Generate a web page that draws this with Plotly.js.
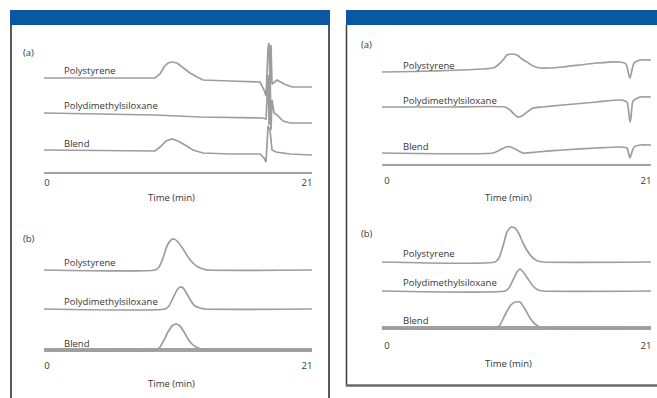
<!DOCTYPE html>
<html>
<head>
<meta charset="utf-8">
<script src="https://cdn.plot.ly/plotly-3.0.1.min.js"></script>
<style>
  html, body { margin: 0; padding: 0; background: #ffffff; }
  #chart { width: 657px; height: 398px; }
</style>
</head>
<body>
<div id="chart"></div>
<script>
// ---- Data: detector traces (signal vs. retention time, min) ----
const tickTimes = [0, 21];
const tickText = ['0', '21'];
const axisTitle = 'Time (min)';
const seriesNames = ['Polystyrene', 'Polydimethylsiloxane', 'Blend'];
const panelTags = ['(a)', '(b)'];

// Left panel, trace set (a)
const leftA_ps_t = [-0.24, 8.32, 8.72, 9.13, 9.45, 9.77, 10.1, 10.5, 10.99, 11.55, 12.12, 12.6, 14.78, 17.2, 17.53, 17.69, 17.85, 17.93, 18.01, 18.09, 18.17, 18.26, 18.58, 19.14, 19.79, 21.4];
const leftA_ps_s = [0, 0, 0, 4, 11, 15, 16, 15, 10, 5, 1, -2, -3, -4, -12, -18, 30, 35, -10, 33, -6, -5, -2, -6, -9, -9];
const leftA_pdms_t = [-0.24, 5.9, 8.72, 12.36, 17.37, 17.69, 17.85, 17.93, 18.01, 18.09, 18.17, 18.34, 18.58, 19.06, 19.63, 21.4];
const leftA_pdms_s = [0, -1, -2, -4, -5, -6, 38, -12, 43, -17, 13, 0, -2, -8, -10, -10];
const leftA_blend_t = [-0.24, 8.32, 8.72, 9.13, 9.61, 10.1, 10.58, 11.15, 11.79, 12.6, 14.78, 17.2, 17.53, 17.69, 17.85, 18.01, 18.17, 18.5, 19.63, 21.4];
const leftA_blend_s = [0, -1, -1, 3, 9, 11, 9, 5, 0, -3, -4, -4, -8, -12, 24, 20, 0, -2, -4, -5];

// Left panel, trace set (b)
const leftB_ps_t = [-0.24, 8.72, 9.05, 9.37, 9.69, 10.02, 10.26, 10.58, 10.99, 11.39, 11.79, 12.2, 12.6, 13.0, 21.4];
const leftB_ps_s = [0, 0, 3, 12, 24, 30, 31, 28, 21, 13, 7, 3, 1, 0, 0];
const leftB_pdms_t = [-0.24, 9.53, 9.85, 10.18, 10.5, 10.74, 10.99, 11.31, 11.63, 11.95, 12.36, 12.76, 21.4];
const leftB_pdms_s = [0, 0, 3, 11, 19, 22, 21, 15, 8, 3, 1, 0, 0];
const leftB_blend_t = [-0.24, 8.8, 9.13, 9.45, 9.77, 10.1, 10.42, 10.74, 11.07, 11.39, 11.71, 12.04, 12.44, 12.84, 21.4];
const leftB_blend_s = [0, 0, 3, 10, 18, 24, 26, 24, 18, 11, 6, 3, 1, 0, 0];

// Right panel, trace set (a)
const rightA_ps_t = [-0.41, 3.49, 8.6, 9.0, 9.41, 9.73, 10.06, 10.54, 10.95, 11.35, 11.84, 12.41, 13.22, 14.27, 17.03, 18.9, 19.38, 19.63, 19.71, 19.87, 20.03, 20.52, 21.41];
const rightA_ps_s = [0, 1, 4, 7, 12, 17, 18, 17, 13, 10, 6, 4, 4, 5, 9, 10, 8, -4, -6, 2, 9, 12, 12];
const rightA_pdms_t = [-0.41, 5.11, 9.57, 9.98, 10.3, 10.62, 10.95, 11.27, 11.84, 12.65, 14.27, 17.03, 18.9, 19.46, 19.63, 19.71, 19.79, 19.95, 20.52, 21.41];
const rightA_pdms_s = [0, 0, 0, -3, -7, -10, -9, -6, -1, 0, 2, 5, 7, 5, -8, -15, -10, 6, 10, 10];
const rightA_blend_t = [-0.41, 8.6, 9.16, 9.65, 10.06, 10.54, 11.03, 12.17, 14.27, 17.03, 18.9, 19.46, 19.63, 19.71, 19.87, 20.03, 20.52, 21.41];
const rightA_blend_s = [0, 0, 3, 6, 6, 3, 0, 1, 3, 5, 6, 5, -2, -5, 1, 6, 8, 8];

// Right panel, trace set (b)
const rightB_ps_t = [-0.41, 8.76, 9.08, 9.41, 9.73, 10.06, 10.38, 10.71, 11.03, 11.44, 11.84, 12.25, 12.65, 21.41];
const rightB_ps_s = [0, 0, 4, 16, 30, 35, 34, 28, 19, 10, 4, 1, 0, 0];
const rightB_pdms_t = [-0.41, 9.57, 9.89, 10.22, 10.54, 10.79, 11.11, 11.44, 11.84, 12.25, 12.65, 21.41];
const rightB_pdms_s = [0, 0, 3, 11, 19, 22, 18, 12, 5, 1, 0, 0];
const rightB_blend_t = [-0.41, 8.84, 9.16, 9.57, 9.98, 10.38, 10.79, 11.19, 11.6, 12.0, 12.41, 12.81, 21.41];
const rightB_blend_s = [0, 0, 3, 13, 22, 26, 26, 19, 10, 4, 1, 0, 0];

// ---- Layout helpers (page is 657 x 398 px, no margins) ----
const W = 657, H = 398;
const px = v => v / W;
const py = v => 1 - v / H;

const traceColor = '#9d9d9d';
const baseColor = '#a2a2a2';
const textColor = '#363636';
const font = { family: 'Open Sans, sans-serif', size: 9.5, color: textColor };

const leftRange = [-0.24, 21.4];
const rightRange = [-0.405, 21.41];

// Each trace group: axes suffix, stacking offsets, label heights, line shape, base line width
const groups = [
  { ax: '',  range: leftRange, axisWidth: 2,
    sets: [[leftA_ps_t, leftA_ps_s], [leftA_pdms_t, leftA_pdms_s], [leftA_blend_t, leftA_blend_s]],
    offsets: [95, 60, 23], labelY: [103, 68, 30], labelX: 1.2, shape: 'linear' },
  { ax: '2', range: leftRange, axisWidth: 4,
    sets: [[leftB_ps_t, leftB_ps_s], [leftB_pdms_t, leftB_pdms_s], [leftB_blend_t, leftB_blend_s]],
    offsets: [80, 41, 0], labelY: [88, 49, 7], labelX: 1.2, shape: 'spline' },
  { ax: '3', range: rightRange, axisWidth: 2,
    sets: [[rightA_ps_t, rightA_ps_s], [rightA_pdms_t, rightA_pdms_s], [rightA_blend_t, rightA_blend_s]],
    offsets: [93, 58, 12], labelY: [100, 65, 19], labelX: 1.14, shape: 'spline' },
  { ax: '4', range: rightRange, axisWidth: 4,
    sets: [[rightB_ps_t, rightB_ps_s], [rightB_pdms_t, rightB_pdms_s], [rightB_blend_t, rightB_blend_s]],
    offsets: [66, 37, 0], labelY: [75, 46, 8], labelX: 1.14, shape: 'spline' }
];

const traces = [];
const annotations = [];
groups.forEach(g => {
  // time axis base line at zero signal, spanning the full axis range
  traces.push({
    type: 'scatter', mode: 'lines',
    x: g.range, y: [0, 0],
    xaxis: 'x' + g.ax, yaxis: 'y' + g.ax,
    line: { color: baseColor, width: g.axisWidth },
    hoverinfo: 'skip', showlegend: false
  });
  g.sets.forEach(([t, s], i) => {
    traces.push({
      type: 'scatter', mode: 'lines',
      x: t, y: s.map(v => v + g.offsets[i]),
      xaxis: 'x' + g.ax, yaxis: 'y' + g.ax,
      line: { color: traceColor, width: 1.7, shape: g.shape, smoothing: 0.5 },
      hoverinfo: 'skip', showlegend: false
    });
    annotations.push({
      text: seriesNames[i], xref: 'x' + g.ax, yref: 'y' + g.ax,
      x: g.labelX, y: g.labelY[i], xanchor: 'left', yanchor: 'middle',
      showarrow: false, font: font
    });
  });
});

// Panel tags and axis titles
[[21, 53, 0], [21, 238, 1], [359, 45, 0], [359, 233, 1]].forEach(([x, y, k]) => {
  annotations.push({ text: panelTags[k], xref: 'paper', yref: 'paper', x: px(x), y: py(y),
    xanchor: 'left', yanchor: 'middle', showarrow: false, font: font });
});
[[171, 197], [171, 383], [508, 197], [508, 363]].forEach(([x, y]) => {
  annotations.push({ text: axisTitle, xref: 'paper', yref: 'paper', x: px(x), y: py(y),
    xanchor: 'center', yanchor: 'middle', showarrow: false, font: font });
});

function xAxis(domL, domR, range, anchor) {
  return { domain: [px(domL), px(domR)], range: range, anchor: anchor, fixedrange: true,
    showgrid: false, zeroline: false, showline: false, ticks: '',
    tickvals: tickTimes, ticktext: tickText, tickfont: font };
}
function yAxis(top, bottom, gap, anchor) {
  return { domain: [py(bottom), py(top)], range: [-gap, bottom - gap - top], anchor: anchor,
    fixedrange: true, showgrid: false, showticklabels: false, ticks: '', showline: false,
    zeroline: false };
}

// header bars and panel frames
const shapes = [
  { type: 'rect', xref: 'paper', yref: 'paper', x0: px(10), x1: px(330), y0: py(25), y1: py(10),
    fillcolor: '#0a57a4', line: { width: 0 }, layer: 'below' },
  { type: 'rect', xref: 'paper', yref: 'paper', x0: px(346), x1: px(657), y0: py(25), y1: py(10),
    fillcolor: '#0a57a4', line: { width: 0 }, layer: 'below' },
  { type: 'line', xref: 'paper', yref: 'paper', x0: px(11), x1: px(11), y0: py(25), y1: py(398),
    line: { color: '#222222', width: 1.5 } },
  { type: 'line', xref: 'paper', yref: 'paper', x0: px(329), x1: px(329), y0: py(25), y1: py(398),
    line: { color: '#222222', width: 1.5 } },
  { type: 'line', xref: 'paper', yref: 'paper', x0: px(346.5), x1: px(346.5), y0: py(25), y1: py(386),
    line: { color: '#3c3c3c', width: 1.5 } },
  { type: 'line', xref: 'paper', yref: 'paper', x0: px(346), x1: px(657), y0: py(385.5), y1: py(385.5),
    line: { color: '#6a6a6a', width: 2.5 } }
];

const layout = {
  width: W, height: H, autosize: false,
  margin: { l: 0, r: 0, t: 0, b: 0, pad: 0 },
  paper_bgcolor: '#ffffff', plot_bgcolor: 'rgba(0,0,0,0)',
  showlegend: false,
  xaxis:  xAxis(44, 312, leftRange, 'y'),
  xaxis2: xAxis(44, 312, leftRange, 'y2'),
  xaxis3: xAxis(382, 651, rightRange, 'y3'),
  xaxis4: xAxis(382, 651, rightRange, 'y4'),
  yaxis:  yAxis(35, 175, 2, 'x'),
  yaxis2: yAxis(218, 358, 8, 'x2'),
  yaxis3: yAxis(35, 173, 8, 'x3'),
  yaxis4: yAxis(213, 338, 10, 'x4'),
  annotations: annotations,
  shapes: shapes
};

Plotly.newPlot('chart', traces, layout, { staticPlot: true, displayModeBar: false });
</script>
</body>
</html>
